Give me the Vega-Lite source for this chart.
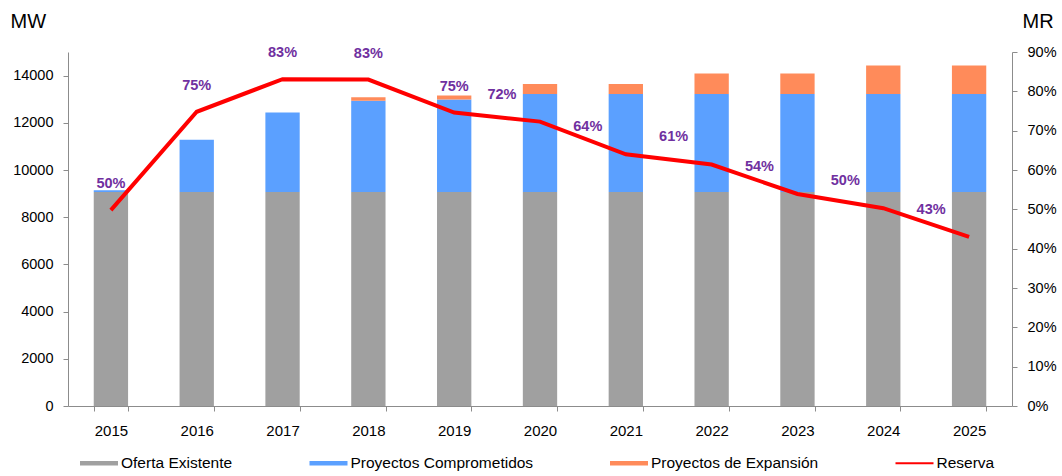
{
  "$schema": "https://vega.github.io/schema/vega-lite/v6.json",
  "width": 944,
  "height": 354,
  "autosize": {"type": "none"},
  "padding": {"left": 68, "top": 52, "right": 50, "bottom": 70},
  "background": "white",
  "config": {
    "view": {"stroke": null},
    "font": "Liberation Sans",
    "axis": {
      "domainColor": "#8c8c8c",
      "tickColor": "#8c8c8c",
      "labelColor": "#000000",
      "titleColor": "#000000",
      "grid": false,
      "labelFont": "Liberation Sans",
      "titleFont": "Liberation Sans",
      "tickSize": 5,
      "domainWidth": 1,
      "tickWidth": 1,
      "labelOverlap": false
    }
  },
  "datasets": {
    "bars": [
      {"year": "2015", "category": "Oferta Existente", "value": 9070},
      {"year": "2015", "category": "Proyectos Comprometidos", "value": 70},
      {"year": "2015", "category": "Proyectos de Expansión", "value": 0},
      {"year": "2016", "category": "Oferta Existente", "value": 9070},
      {"year": "2016", "category": "Proyectos Comprometidos", "value": 2210},
      {"year": "2016", "category": "Proyectos de Expansión", "value": 0},
      {"year": "2017", "category": "Oferta Existente", "value": 9070},
      {"year": "2017", "category": "Proyectos Comprometidos", "value": 3370},
      {"year": "2017", "category": "Proyectos de Expansión", "value": 0},
      {"year": "2018", "category": "Oferta Existente", "value": 9070},
      {"year": "2018", "category": "Proyectos Comprometidos", "value": 3860},
      {"year": "2018", "category": "Proyectos de Expansión", "value": 155},
      {"year": "2019", "category": "Oferta Existente", "value": 9070},
      {"year": "2019", "category": "Proyectos Comprometidos", "value": 3920},
      {"year": "2019", "category": "Proyectos de Expansión", "value": 170},
      {"year": "2020", "category": "Oferta Existente", "value": 9070},
      {"year": "2020", "category": "Proyectos Comprometidos", "value": 4155},
      {"year": "2020", "category": "Proyectos de Expansión", "value": 423},
      {"year": "2021", "category": "Oferta Existente", "value": 9070},
      {"year": "2021", "category": "Proyectos Comprometidos", "value": 4155},
      {"year": "2021", "category": "Proyectos de Expansión", "value": 423},
      {"year": "2022", "category": "Oferta Existente", "value": 9070},
      {"year": "2022", "category": "Proyectos Comprometidos", "value": 4155},
      {"year": "2022", "category": "Proyectos de Expansión", "value": 861},
      {"year": "2023", "category": "Oferta Existente", "value": 9070},
      {"year": "2023", "category": "Proyectos Comprometidos", "value": 4155},
      {"year": "2023", "category": "Proyectos de Expansión", "value": 861},
      {"year": "2024", "category": "Oferta Existente", "value": 9070},
      {"year": "2024", "category": "Proyectos Comprometidos", "value": 4155},
      {"year": "2024", "category": "Proyectos de Expansión", "value": 1200},
      {"year": "2025", "category": "Oferta Existente", "value": 9070},
      {"year": "2025", "category": "Proyectos Comprometidos", "value": 4155},
      {"year": "2025", "category": "Proyectos de Expansión", "value": 1200}
    ],
    "reserva": [
      {"year": "2015", "reserva": 0.498},
      {"year": "2016", "reserva": 0.748},
      {"year": "2017", "reserva": 0.831},
      {"year": "2018", "reserva": 0.830},
      {"year": "2019", "reserva": 0.746},
      {"year": "2020", "reserva": 0.723},
      {"year": "2021", "reserva": 0.640},
      {"year": "2022", "reserva": 0.614},
      {"year": "2023", "reserva": 0.539},
      {"year": "2024", "reserva": 0.503},
      {"year": "2025", "reserva": 0.430}
    ]
  },
  "layer": [
    {
      "data": {"name": "bars"},
      "mark": {"type": "bar"},
      "encoding": {
        "x": {
          "field": "year",
          "type": "ordinal",
          "scale": {"paddingInner": 0.6, "paddingOuter": 0.3},
          "axis": {
            "title": null,
            "labelAngle": 0,
            "tickBand": "extent",
            "labelFontSize": 15,
            "labelPadding": 12
          }
        },
        "y": {
          "field": "value",
          "type": "quantitative",
          "stack": "zero",
          "scale": {"domain": [0, 15000], "nice": false},
          "axis": {
            "values": [0, 2000, 4000, 6000, 8000, 10000, 12000, 14000],
            "format": "d",
            "title": "MW",
            "titleAngle": 0,
            "titleX": -58,
            "titleY": -25,
            "titleAlign": "left",
            "titleBaseline": "alphabetic",
            "titleFontSize": 20,
            "titleFontWeight": "normal",
            "labelFontSize": 14.5,
            "labelPadding": 10,
            "labelOverlap": false
          }
        },
        "color": {
          "field": "category",
          "type": "nominal",
          "scale": {
            "domain": ["Oferta Existente", "Proyectos Comprometidos", "Proyectos de Expansión", "Reserva"],
            "range": ["#A0A0A0", "#5BA0FF", "#FF8B5A", "#FF0000"]
          },
          "legend": {
            "title": null,
            "orient": "none",
            "legendX": 12,
            "legendY": 392,
            "direction": "horizontal",
            "columns": 4,
            "columnPadding": 76.5,
            "labelFontSize": 15.5,
            "labelFont": "Liberation Sans",
            "labelColor": "#000000",
            "labelOffset": 3,
            "labelLimit": 400,
            "symbolType": "M-1,-0.12h2v0.24h-2z",
            "symbolSize": 1444,
            "symbolStrokeWidth": 0,
            "padding": 0,
            "encode": {
              "symbols": {
                "update": {
                  "shape": {"signal": "datum.value === 'Reserva' ? 'M-1,-0.05h2v0.1h-2z' : 'M-1,-0.12h2v0.24h-2z'"},
                  "fill": {"scale": "color", "field": "value"},
                  "stroke": {"value": "transparent"},
                  "opacity": {"value": 1}
                }
              }
            }
          }
        },
        "order": {"field": "category", "sort": "ascending"}
      }
    },
    {
      "data": {"name": "reserva"},
      "layer": [
        {
          "mark": {"type": "line", "strokeWidth": 4},
          "encoding": {
            "x": {"field": "year", "type": "ordinal"},
            "y": {
              "field": "reserva",
              "type": "quantitative",
              "scale": {"domain": [0, 0.9], "nice": false},
              "axis": {
                "orient": "right",
                "values": [0, 0.1, 0.2, 0.3, 0.4, 0.5, 0.6, 0.7, 0.8, 0.9],
                "tickCount": 10,
                "format": ".0%",
                "title": "MR",
                "titleAngle": 0,
                "titleX": 10,
                "titleY": -25,
                "titleAlign": "left",
                "titleBaseline": "alphabetic",
                "titleFontSize": 20,
                "titleFontWeight": "normal",
                "labelFontSize": 14.5,
                "labelPadding": 10,
                "labelOverlap": false,
                "labelFlush": false
              }
            },
            "color": {"datum": "Reserva", "legend": null}
          }
        },
        {
          "transform": [{"filter": "toNumber(datum.year) <= 2019"}],
          "mark": {"type": "text", "fontSize": 14.5, "fontWeight": "bold", "color": "#7030A0", "dy": -26, "font": "Liberation Sans"},
          "encoding": {
            "x": {"field": "year", "type": "ordinal"},
            "y": {"field": "reserva", "type": "quantitative"},
            "text": {"field": "reserva", "type": "quantitative", "format": ".0%"}
          }
        },
        {
          "transform": [{"filter": "toNumber(datum.year) >= 2020"}],
          "mark": {"type": "text", "fontSize": 14.5, "fontWeight": "bold", "color": "#7030A0", "dy": -27, "dx": -38, "font": "Liberation Sans"},
          "encoding": {
            "x": {"field": "year", "type": "ordinal"},
            "y": {"field": "reserva", "type": "quantitative"},
            "text": {"field": "reserva", "type": "quantitative", "format": ".0%"}
          }
        }
      ]
    }
  ],
  "resolve": {"scale": {"y": "independent"}}
}
